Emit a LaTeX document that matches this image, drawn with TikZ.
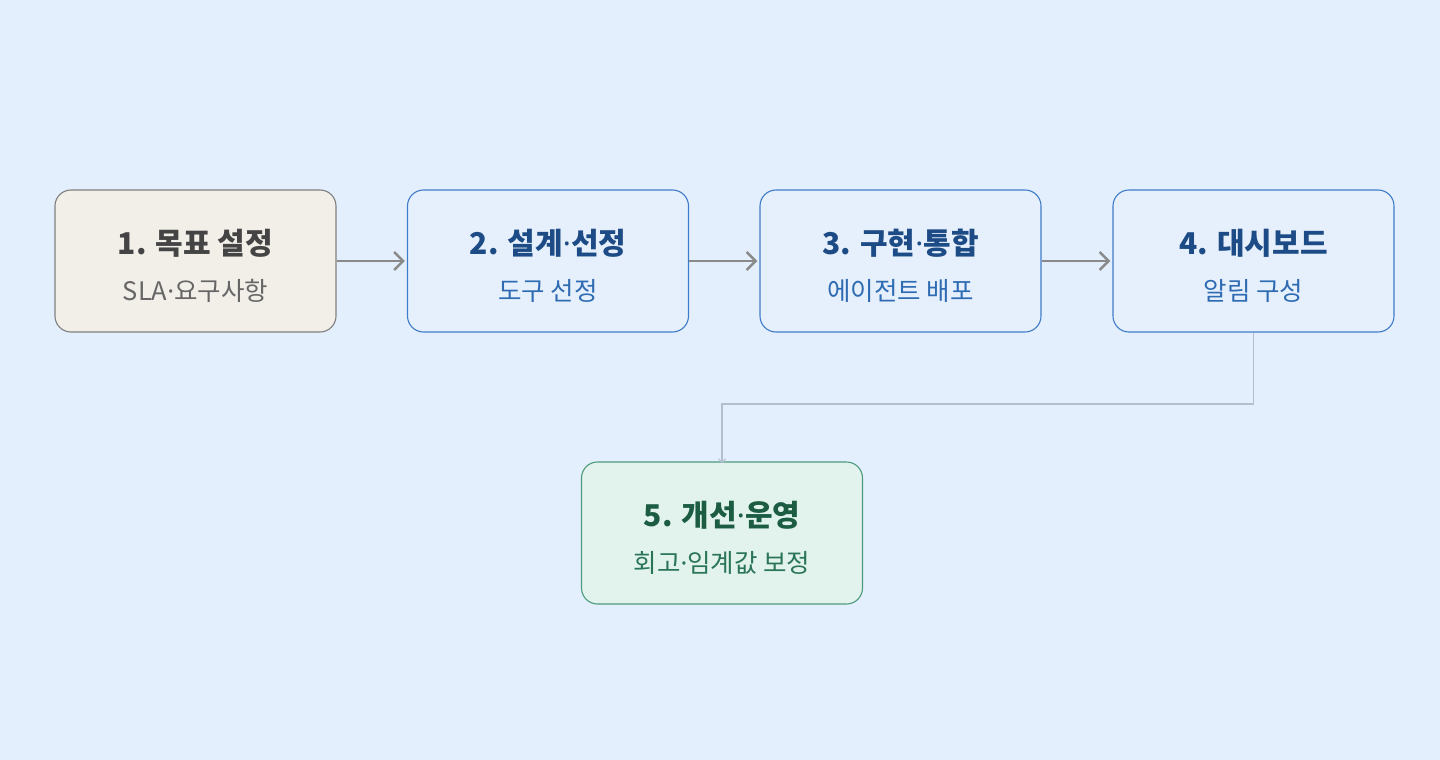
\documentclass[tikz,border=0pt]{standalone}
\usepackage{fontspec}
\setmainfont{Noto Sans CJK KR}
\newfontfamily\latinf{Noto Sans}
\newcommand{\md}{{\latinf ·}}
\usetikzlibrary{arrows.meta,positioning}
\definecolor{bg}{HTML}{E3EFFD}
\definecolor{gfill}{HTML}{F2EFE9}
\definecolor{gdraw}{HTML}{7F7F7F}
\definecolor{gtitle}{HTML}{444444}
\definecolor{gsub}{HTML}{666666}
\definecolor{bfill}{HTML}{E6F0FC}
\definecolor{bdraw}{HTML}{3F7CC8}
\definecolor{btitle}{HTML}{1D4B85}
\definecolor{bsub}{HTML}{2E6BB3}
\definecolor{efill}{HTML}{E1F3EC}
\definecolor{edraw}{HTML}{4E9A7C}
\definecolor{etitle}{HTML}{1B5C43}
\definecolor{esub}{HTML}{2A7558}
\definecolor{arr}{HTML}{8A8A8A}
\definecolor{conn}{HTML}{B3BFCF}
\tikzset{
  x=1pt,y=-1pt,
  stepbox/.style={rounded corners=16pt,minimum width=281pt,minimum height=142pt,line width=1.1pt,inner sep=0pt},
  graybox/.style={stepbox,fill=gfill,draw=gdraw},
  bluebox/.style={stepbox,fill=bfill,draw=bdraw},
  greenbox/.style={stepbox,fill=efill,draw=edraw},
  ttl/.style={font=\fontsize{30}{34}\selectfont\bfseries},
  sub/.style={font=\fontsize{25.5}{29}\selectfont},
  flow/.style={draw=arr,line width=2.5pt,-{Straight Barb[length=9pt,width=18pt,line width=2.5pt]}},
  thin/.style={draw=conn,line width=1.3pt,-{Straight Barb[length=4pt,width=7pt,line width=1pt]}}
}
\begin{document}
\begin{tikzpicture}
\fill[bg] (0,0) rectangle (1440,760);
\useasboundingbox (0,0) rectangle (1440,760);
\node[graybox] (b1) at (195.5,261) {};
\node[bluebox] (b2) at (548,261) {};
\node[bluebox] (b3) at (900.5,261) {};
\node[bluebox] (b4) at (1253.5,261) {};
\node[greenbox] (b5) at (722,533) {};
\node[ttl,text=gtitle] (t1) at (195.5,243) {1. 목표 설정};
\node[sub,text=gsub] (s1) at (195.5,291) {SLA\md 요구사항};
\node[ttl,text=btitle] (t2) at (548,243) {2. 설계\md 선정};
\node[sub,text=bsub] (s2) at (548,291) {도구 선정};
\node[ttl,text=btitle] (t3) at (900.5,243) {3. 구현\md 통합};
\node[sub,text=bsub] (s3) at (900.5,291) {에이전트 배포};
\node[ttl,text=btitle] (t4) at (1253.5,243) {4. 대시보드};
\node[sub,text=bsub] (s4) at (1253.5,291) {알림 구성};
\node[ttl,text=etitle] (t5) at (722,515) {5. 개선\md 운영};
\node[sub,text=esub] (s5) at (722,563) {회고\md 임계값 보정};
\draw[flow] (b1.east) -- ([xshift=-2pt]b2.west);
\draw[flow] (b2.east) -- ([xshift=-2pt]b3.west);
\draw[flow] (b3.east) -- ([xshift=-2pt]b4.west);
\coordinate (c1) at (1253.5,404);
\coordinate (c2) at (722,404);
\draw[thin] (b4.south) -- (c1) -- (c2) -- ([yshift=-2pt]b5.north);
\end{tikzpicture}
\end{document}
